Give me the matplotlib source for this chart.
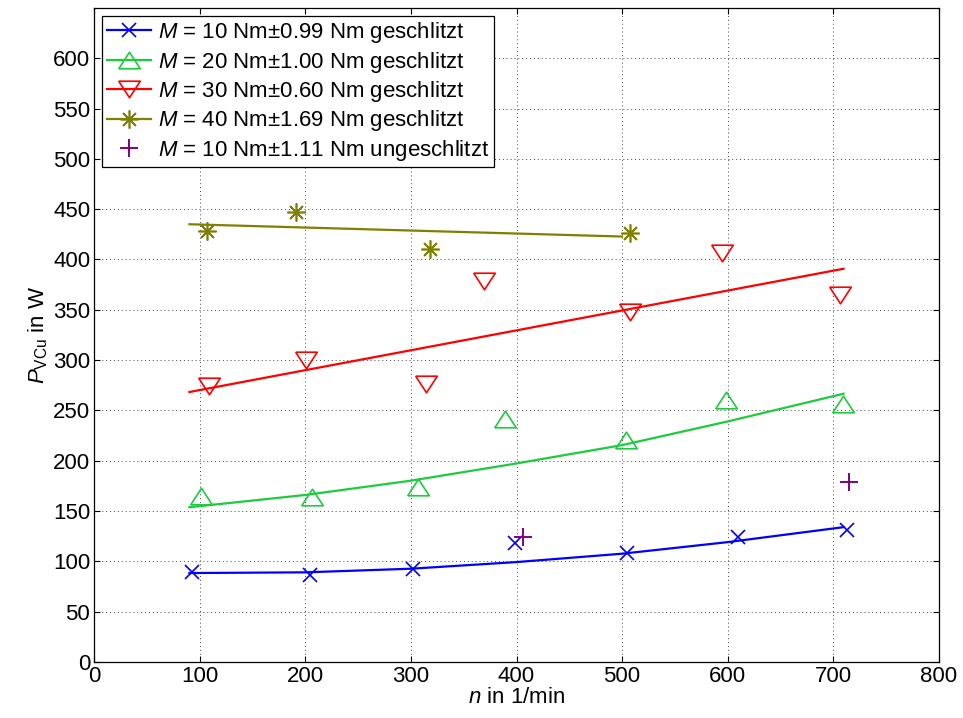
import matplotlib
matplotlib.use("Agg")
import matplotlib.pyplot as plt
from matplotlib.lines import Line2D

# ==============================================================
# DATEN
# ==============================================================
n_10 = [92, 204, 302, 399, 505, 610, 713]
p_10 = [89.4, 86.8, 92.8, 118.1, 108.6, 124.1, 131.4]

n_20 = [101, 206, 307, 389, 504, 599, 709]
p_20 = [164.7, 164.0, 174.0, 241.0, 220.5, 260.4, 256.0]

n_30 = [108.5, 200.5, 314, 369, 508, 594.5, 707]
p_30 = [274.3, 299.7, 276.0, 378.7, 348.2, 406.2, 364.5]

n_40 = [107, 191, 318, 508]
p_40 = [428.7, 447.5, 410.2, 426.0]

n_ung = [406, 715]
p_ung = [124.1, 179.2]

# Ausgleichskurven
n_fit = [90, 200, 300, 400, 500, 600, 710]
fit_10 = [88.4, 89.1, 92.7, 99.3, 107.6, 119.1, 134.0]
fit_20 = [153.8, 166.0, 180.2, 197.3, 215.5, 239.0, 266.6]
n_fit_30 = [90, 710]
fit_30 = [268.3, 390.8]
n_fit_40 = [90, 500]
fit_40 = [435.0, 422.8]

labels = [
    "$M$ = 10 Nm\u00b10.99 Nm geschlitzt",
    "$M$ = 20 Nm\u00b11.00 Nm geschlitzt",
    "$M$ = 30 Nm\u00b10.60 Nm geschlitzt",
    "$M$ = 40 Nm\u00b11.69 Nm geschlitzt",
    "$M$ = 10 Nm\u00b11.11 Nm ungeschlitzt",
]

# ==============================================================
# STIL
# ==============================================================
plt.rcParams['font.family'] = ['Liberation Sans', 'DejaVu Sans']
plt.rcParams['mathtext.fontset'] = 'custom'
plt.rcParams['mathtext.rm'] = 'Liberation Sans'
plt.rcParams['mathtext.it'] = 'Liberation Sans:italic'

BLAU = (0, 0, 1)
GRUEN = '#1ccc3c'
ROT = (1, 0, 0)
OLIV = '#808000'
LILA = '#800080'

# flache Dreiecke wie im Original (breiter als hoch)
DREIECK_AUF = [(-1, -0.77), (1, -0.77), (0, 0.77), (-1, -0.77)]
DREIECK_AB = [(-1, 0.77), (1, 0.77), (0, -0.77), (-1, 0.77)]

fig = plt.figure(figsize=(9.63, 7.18), dpi=100)
ax = fig.add_axes([0.0981, 0.078, 0.8765, 0.911])

# Messpunkte
ax.plot(n_10, p_10, linestyle='none', marker='x', ms=10, mew=1.2, color=BLAU)
ax.plot(n_20, p_20, linestyle='none', marker=DREIECK_AUF, ms=15.5, mew=1.2, mfc='none', color=GRUEN)
ax.plot(n_30, p_30, linestyle='none', marker=DREIECK_AB, ms=15.5, mew=1.2, mfc='none', color=ROT)
ax.plot(n_40, p_40, linestyle='none', marker=(8, 2, 0), ms=13, mew=1.2, color=OLIV)
ax.plot(n_ung, p_ung, linestyle='none', marker='+', ms=13, mew=1.4, color=LILA)

# Ausgleichskurven
ax.plot(n_fit, fit_10, color=BLAU, lw=1.6)
ax.plot(n_fit, fit_20, color=GRUEN, lw=1.6)
ax.plot(n_fit_30, fit_30, color=ROT, lw=1.6)
ax.plot(n_fit_40, fit_40, color=OLIV, lw=1.6)

ax.set_xlim(0, 800)
ax.set_ylim(0, 650)
ax.set_xticks(range(0, 801, 100))
ax.set_yticks(range(0, 601, 50))

ax.grid(True, linestyle=(0, (1, 3)), color='#444444', linewidth=0.7)
ax.tick_params(direction='in', length=4, width=0.8, top=True, right=True,
               labelsize=16, pad=3)
for s in ax.spines.values():
    s.set_linewidth(0.9)

ax.set_xlabel("$n$ in 1/min", fontsize=16, labelpad=0)
ax.set_ylabel("$P_{\\mathrm{VCu}}$ in W", fontsize=16, labelpad=2)

handles = [
    Line2D([], [], color=BLAU, lw=1.6, marker='x', ms=10, mew=1.2),
    Line2D([], [], color=GRUEN, lw=1.6, marker=DREIECK_AUF, ms=15.5, mew=1.2, mfc='none'),
    Line2D([], [], color=ROT, lw=1.6, marker=DREIECK_AB, ms=15.5, mew=1.2, mfc='none'),
    Line2D([], [], color=OLIV, lw=1.6, marker=(8, 2, 0), ms=13, mew=1.2),
    Line2D([], [], color=LILA, linestyle='none', marker='+', ms=13, mew=1.4),
]
leg = ax.legend(handles, labels, loc='upper left', fontsize=16, fancybox=False,
                edgecolor='black', framealpha=1, borderaxespad=0.35,
                labelspacing=0.2, handlelength=2.0, handletextpad=0.3,
                borderpad=0.2)
leg.get_frame().set_linewidth(0.9)

fig.savefig("out.png", dpi=100)
